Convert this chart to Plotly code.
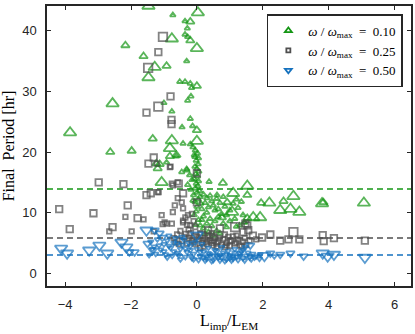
import plotly.graph_objects as go

# omega/omega_max = 0.10 (green triangles); w = size class of each point
green_x = [-1.47, -0.73, 0.03, -0.36, -0.20, -0.29, -0.36, -0.28, -0.20, -0.76, -2.17, 0.00, -1.62, -0.31,
           -1.28, -0.92, -1.47, -0.52, -0.36, -0.20, -0.16, 0.00, -2.56, -1.00, -0.18, -0.28, -0.76, -3.85,
           -0.45, -0.20, -0.13, 0.00, -1.34, -0.76, 0.00, -0.82, -0.42, -0.20, -0.12, -2.63, -1.98, -0.62,
           -0.06, -1.23, -0.92, -1.07, -1.13, -1.19, -0.46, -0.31, -0.62, -0.82,
           -0.05, 0.02, -0.08, 0.05, -0.02, 0.04, -0.06, 0.00, 0.06, -0.04, 0.02, -0.08, 0.05, -0.02, 0.03,
           -0.05, 0.08, 0.00, -0.10, 0.10, 0.04, -0.06, 0.12, 0.00, 0.15, -0.02, -0.30, -0.22, -0.15, -0.28,
           -0.18, -0.12, -0.08, 0.05, -0.04,
           0.20, 0.30, 0.25, 0.40, 0.45, 0.35, 0.50, 0.55, 0.30, 0.60, 0.70, 0.65, 0.80, 0.85, 0.75, 0.20,
           0.40, 0.55, 0.30, 0.45, 0.20, 0.60, 0.35, 0.90, 1.00, 1.10, 1.20, 1.25, 1.35, 1.00, 0.80, 1.40,
           1.15, 0.65, 0.90, 1.20, 1.45, 0.15, 0.10, 0.25, 0.50, 0.70,
           0.61, 0.92, 1.07, 1.53, 0.76, 1.10, 1.53, 1.53, 0.79, 0.37, 1.30, 1.95, 2.20, 2.63, 2.93, 2.53,
           2.84, 3.11, 3.80, 3.84, 5.07, 1.71, 1.92, 1.44]
green_y = [44.1, 42.6, 43.0, 41.6, 41.5, 40.4, 39.4, 39.0, 38.4, 38.7, 37.6, 37.1, 35.8, 35.0,
           34.0, 34.2, 32.3, 31.6, 31.6, 31.3, 30.6, 30.9, 28.0, 28.1, 29.2, 28.5, 26.7, 23.2,
           24.1, 25.5, 24.3, 23.6, 22.2, 21.9, 21.8, 20.6, 21.4, 21.3, 20.8, 20.0, 20.2, 19.3,
           19.2, 18.1, 18.3, 15.0, 18.0, 17.3, 16.7, 17.2, 19.5, 19.3,
           20.3, 19.8, 19.5, 19.0, 18.6, 18.0, 17.6, 17.2, 16.8, 16.4, 16.0, 15.6, 15.2, 14.8, 14.4,
           14.0, 13.6, 13.3, 12.9, 12.6, 12.2, 11.8, 11.5, 11.0, 10.6, 10.2, 17.0, 16.2, 15.4, 14.6,
           13.8, 12.0, 9.6, 8.8, 8.0,
           13.0, 12.4, 11.6, 12.8, 11.9, 10.9, 11.2, 10.4, 10.0, 12.3, 11.6, 10.6, 12.6, 11.0, 9.8, 9.4,
           9.0, 8.6, 8.2, 7.8, 7.4, 7.0, 6.8, 9.6, 10.4, 11.5, 12.2, 10.8, 11.8, 8.6, 8.2, 9.6,
           9.0, 9.3, 7.6, 7.7, 8.4, 8.8, 7.9, 6.5, 6.2, 6.6,
           12.9, 11.7, 10.1, 9.1, 9.2, 13.2, 12.9, 14.4, 14.9, 15.1, 7.9, 11.6, 11.6, 11.9, 12.7, 10.4,
           10.6, 10.1, 11.5, 11.7, 11.6, 9.2, 9.2, 8.4]
green_w = [3, 1, 3, 1, 2, 1, 1, 1, 2, 3, 2, 3, 2, 1,
           3, 2, 3, 1, 1, 1, 1, 2, 3, 1, 1, 1, 1, 3,
           1, 1, 1, 2, 2, 3, 3, 3, 1, 1, 1, 2, 2, 1,
           1, 2, 1, 3, 2, 2, 1, 1, 2, 2] + [1] * 35 + [1] * 42 + \
          [1, 2, 3, 2, 2, 3, 2, 3, 2, 1, 1, 2, 3, 2, 3, 3,
           3, 3, 3, 2, 3, 3, 3, 1]

# omega/omega_max = 0.25 (gray squares)
gray_x = [-1.03, -1.17, -1.48, -0.80, -1.17, -1.53, -0.77, -0.77, -1.31, -1.47, -0.80,
          -4.18, -3.86, -3.14, -2.98, -2.23, -2.10, -2.17, -2.56, -2.66, -1.98, -1.80, -1.62, -1.53,
          -1.40, -1.16, -1.07, -1.04, -1.31, -0.73, -0.55,
          0.00, -1.22, -0.82, -0.76, -0.58, -1.19, -0.42, -0.58, -0.46, 0.00, -0.67, -0.42, -0.73,
          -0.27, -0.98, -0.76, -0.42, -0.21, -0.92, -0.42,
          -0.35, -0.30, -0.15, -0.10, -0.25, -0.05, -0.50, -0.60, -0.18, -0.38, -0.70, -0.08,
          1.16, 1.47, 1.56, 0.70, 0.34, 0.49, 0.15, 1.53, 1.41,
          0.05, 0.15, 0.25, 0.30, 0.40, 0.50, 0.55, 0.65, 0.75, 0.80, 0.90, 1.00, 1.05, 1.15, 1.25,
          1.30, 1.40, 1.50, 1.60, 0.20, 0.60, 0.95, 0.35, 0.85, 1.20, -0.05, -0.15, -0.30, -0.45,
          0.10, 0.45,
          -0.55, -0.25, -0.10, 0.00, 0.10, 0.30, 0.45, 0.60, 0.70, 0.85, 1.00, 1.10, 1.35, 1.45,
          -0.65, -0.35, 0.20, 0.50, 0.90, 1.20,
          1.98, 2.23, 2.53, 2.78, 2.93, 3.11, 3.82, 3.85, 4.16, 5.10, 1.80, 1.70]
gray_y = [39.0, 36.5, 33.9, 29.2, 27.5, 26.5, 25.3, 24.6, 19.1, 18.1, 17.6,
          10.6, 7.3, 9.9, 15.0, 14.7, 11.2, 9.3, 7.6, 6.9, 6.9, 9.1, 8.9, 12.9,
          13.2, 13.4, 9.6, 8.1, 6.9, 14.5, 14.8,
          16.5, 18.1, 17.5, 14.8, 15.0, 13.4, 13.2, 12.4, 11.7, 11.7, 11.2, 10.7, 10.1,
          9.6, 8.4, 8.2, 8.4, 7.9, 8.2, 8.7,
          9.2, 8.0, 9.8, 8.6, 7.2, 7.6, 7.0, 6.4, 6.6, 6.0, 5.8, 6.2,
          7.6, 8.2, 7.1, 7.4, 7.1, 6.0, 6.3, 7.9, 6.8,
          5.6, 5.0, 5.8, 4.8, 5.4, 4.6, 5.9, 5.2, 4.7, 5.6, 5.0, 4.5, 5.4, 4.9, 5.6,
          4.6, 5.2, 4.7, 5.4, 4.4, 4.4, 6.0, 6.2, 6.4, 6.2, 4.8, 5.4, 4.9, 5.3,
          6.6, 6.6,
          4.8, 5.8, 5.1, 6.0, 4.2, 5.2, 5.0, 4.9, 5.8, 4.3, 5.3, 6.1, 4.4, 5.8,
          5.1, 6.5, 5.5, 5.4, 4.6, 5.1,
          5.9, 6.4, 5.4, 5.6, 6.8, 5.6, 6.3, 5.3, 5.8, 5.4, 5.6, 6.2]
gray_w = [3, 2, 3, 2, 3, 2, 2, 2, 2, 2, 1,
          2, 2, 2, 2, 2, 2, 1, 2, 1, 1, 2, 1, 2,
          2, 1, 1, 1, 1, 1, 2,
          2, 1, 1, 1, 1, 1, 2, 1, 1, 2, 1, 1, 1,
          1, 1, 1, 1, 1, 1, 1] + [1] * 12 + \
         [3, 2, 2, 2, 2, 2, 2, 2, 2] + [1] * 31 + [1] * 20 + \
         [2, 2, 2, 2, 3, 2, 2, 2, 2, 2, 1, 2]

# omega/omega_max = 0.50 (blue down triangles)
blue_x = [-4.12, -3.94, -3.27, -2.96, -2.72, -2.29, -2.14, -2.05, -1.89, -1.53, -1.50, -1.34, -1.28, -1.13,
          -1.40, -1.30, -1.20, -1.10, -1.00, -0.90, -0.80, -0.70, -0.60, -0.50, -0.40, -0.30, -0.20, -0.10,
          0.00, 0.00, 0.10, 0.20, 0.30, 0.40, 0.50, 0.60, 0.70, 0.80, 0.90, 1.00, 1.10, 1.20, 1.30, 1.40,
          1.50, 1.60, 1.70, 1.80, -1.45, -1.25, -0.95, -0.75, -0.55, -0.35, -0.15, 0.05, 0.25, 0.45, 0.65,
          0.85, 1.05, 1.25, 1.45, 1.65, -0.25, -0.65, 0.15, 0.35, 0.55, 0.75, 0.95, 1.15, 1.35, 1.47,
          1.62, -1.05, -0.85, -0.45,
          -1.35, -1.15, -1.00, -0.85, -0.70, -0.60, -0.45, -0.35, -0.20, -0.05, 0.10, 0.20, 0.35, 0.50,
          0.60, 0.75, 0.90, 1.00, 1.15, 1.30, 1.40, 1.55, 1.75, 1.90, -0.90, -0.50, -0.10, 0.30, 0.70, 1.10,
          1.92, 2.23, 2.53, 2.84, 3.24, 3.82, 3.97, 4.16, 5.10, 2.05, 2.35]
blue_y = [4.1, 3.3, 3.8, 4.6, 3.3, 5.1, 4.3, 3.5, 3.5, 7.1, 4.9, 3.8, 7.1, 6.6,
          5.2, 4.4, 5.6, 3.9, 4.8, 5.4, 4.2, 3.6, 4.9, 4.0, 5.6, 3.5, 4.5, 3.2,
          6.3, 4.0, 2.8, 3.6, 2.4, 3.1, 2.2, 2.9, 2.1, 3.4, 2.3, 3.0, 2.4, 2.7, 3.3, 2.5,
          2.9, 2.6, 3.2, 2.8, 3.0, 3.2, 3.1, 2.9, 3.0, 2.7, 2.5, 2.2, 2.1, 2.0, 2.6,
          2.0, 2.1, 2.2, 2.1, 2.3, 5.0, 5.8, 4.8, 4.2, 3.8, 4.3, 3.7, 4.0, 3.6, 4.3,
          4.6, 5.9, 6.2, 6.0,
          4.0, 4.6, 3.6, 4.5, 5.0, 3.3, 4.7, 4.1, 3.8, 5.1, 3.5, 2.6, 3.3, 2.9,
          3.6, 2.6, 3.1, 2.5, 3.4, 2.9, 3.9, 3.4, 2.6, 2.4, 2.6, 2.3, 2.3, 2.8, 3.0, 2.8,
          3.1, 3.3, 3.1, 3.3, 2.8, 3.3, 2.8, 3.1, 2.6, 2.9, 2.8]
blue_w = [3, 3, 3, 3, 3, 3, 3, 2, 2, 3, 2, 2, 2, 2] + [1] * 14 + [3] + [1] * 45 + [2, 2, 1, 1, 1] + \
         [1] * 30 + [2, 2, 2, 2, 3, 3, 3, 3, 3, 1, 2]

# final period reference levels [hr]
level_vals = [13.9, 5.8, 3.0]

legend_labels = ['0.10', '0.25', '0.50']

GREEN = '#149614'
GRAY = '#4f4f4f'
BLUE = '#1672be'
AXC = '#262626'
SERIF = 'Liberation Serif, DejaVu Serif, serif'
SANS = 'Liberation Sans, Arial, sans-serif'

tri_size = {1: 5, 2: 7.5, 3: 11}
sq_size = {1: 4.5, 2: 6.5, 3: 8.5}

fig = go.Figure()

# reference dashed lines
for val, col in zip(level_vals, [GREEN, GRAY, BLUE]):
    fig.add_hline(y=val, line=dict(color=col, width=1.5, dash='6px,4px'), layer='below')

fig.add_trace(go.Scatter(
    x=green_x, y=green_y, mode='markers', showlegend=False,
    marker=dict(symbol='triangle-up-open', color=GREEN,
                size=[tri_size[w] for w in green_w], line=dict(width=1.8))
))
fig.add_trace(go.Scatter(
    x=gray_x, y=gray_y, mode='markers', showlegend=False,
    marker=dict(symbol='square-open', color=GRAY,
                size=[sq_size[w] for w in gray_w], line=dict(width=1.8))
))
fig.add_trace(go.Scatter(
    x=blue_x, y=blue_y, mode='markers', showlegend=False,
    marker=dict(symbol='triangle-down-open', color=BLUE,
                size=[tri_size[w] for w in blue_w], line=dict(width=1.8))
))

# legend entries
nb = '\u00a0'
for lab, col, sym, sz in zip(legend_labels, [GREEN, GRAY, BLUE],
                             ['triangle-up-open', 'square-open', 'triangle-down-open'], [6, 4, 6]):
    fig.add_trace(go.Scatter(
        x=[None], y=[None], mode='markers',
        marker=dict(symbol=sym, color=col, size=sz, line=dict(width=1.8)),
        name=f'<i>ω</i>{nb}/{nb}<i>ω</i><sub>max</sub>{nb}{nb}={nb}{nb}{lab}'
    ))

fig.update_layout(
    width=415, height=334,
    margin=dict(l=47, r=2, t=6, b=48),
    paper_bgcolor='white', plot_bgcolor='white',
    font=dict(family=SANS, color=AXC, size=13),
    legend=dict(
        x=0.604, y=0.971, xanchor='left', yanchor='top',
        bgcolor='white', bordercolor=AXC, borderwidth=1.5,
        font=dict(family=SERIF, size=13, color='black'),
        tracegroupgap=0, itemwidth=30
    ),
    xaxis=dict(
        range=[-4.55, 6.5], tickvals=[-4, -2, 0, 2, 4, 6],
        ticks='inside', ticklen=4, tickwidth=1, tickcolor=AXC,
        showline=True, linecolor=AXC, linewidth=1.5, mirror='allticks',
        showgrid=False, zeroline=False, ticklabelstandoff=6,
        title=dict(text='L<sub>imp</sub>/L<sub>EM</sub>',
                   font=dict(family=SERIF, size=16, color='black'), standoff=0)
    ),
    yaxis=dict(
        range=[-2.1, 44.1], tickvals=[0, 10, 20, 30, 40],
        ticks='inside', ticklen=4, tickwidth=1, tickcolor=AXC,
        showline=True, linecolor=AXC, linewidth=1.5, mirror='allticks',
        showgrid=False, zeroline=False, ticklabelstandoff=6,
        title=dict(text=f'Final{nb}{nb}Period{nb}[hr]',
                   font=dict(family=SERIF, size=16, color='black'), standoff=4)
    )
)

# drop the default page margin so the figure sits at the window's corner
fig.write_html("out.html", config={'displayModeBar': False},
               post_script="document.body.style.margin='0px';")
